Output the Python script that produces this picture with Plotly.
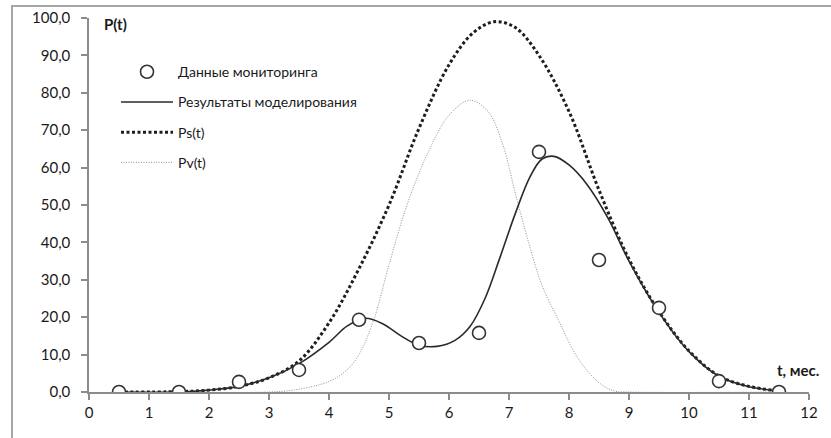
import plotly.graph_objects as go

# Monitoring data
t_obs = [0.5, 1.5, 2.5, 3.5, 4.5, 5.5, 6.5, 7.5, 8.5, 9.5, 10.5, 11.5]
p_obs = [0.0, 0.0, 2.7, 5.9, 19.3, 13.1, 15.8, 64.2, 35.3, 22.5, 2.9, 0.0]

# Modelling result (solid)
t_model = [0.5, 1.5, 2.0, 2.5, 3.0, 3.5, 4.0, 4.3, 4.6, 4.9, 5.2, 5.5, 5.8, 6.1, 6.35, 6.6,
           6.85, 7.1, 7.35, 7.55, 7.75, 8.0, 8.3, 8.65, 9.0, 9.5, 10.0, 10.5, 11.0, 11.5]
p_model = [0.0, 0.0, 0.5, 1.5, 3.8, 7.6, 13.3, 17.6, 19.7, 18.2, 15.0, 12.5, 12.2, 13.8, 17.5, 25.0,
           36.0, 47.5, 57.5, 62.3, 63.0, 60.7, 55.5, 46.5, 35.0, 21.3, 10.8, 4.2, 1.4, 0.3]

# Ps(t)
t_ps = [0.5, 1.5, 2.0, 2.5, 3.0, 3.5, 4.0, 4.5, 5.0, 5.5, 6.0, 6.4, 6.75, 7.1, 7.5,
        8.0, 8.5, 9.0, 9.5, 10.0, 10.5, 11.0, 11.5]
p_ps = [0.0, 0.1, 0.5, 1.5, 3.8, 8.3, 18.5, 33.0, 50.0, 70.5, 87.5, 96.0, 99.0, 97.5, 90.0,
        75.0, 54.0, 35.5, 21.5, 11.0, 4.3, 1.5, 0.3]

# Pv(t)
t_pv = [0.5, 3.0, 3.4, 4.0, 4.3, 4.5, 4.75, 5.0, 5.3, 5.65, 6.0, 6.35, 6.65, 6.9, 7.1,
        7.3, 7.55, 7.8, 8.15, 8.5, 8.75, 9.0, 11.5]
p_pv = [0.0, 0.0, 0.5, 2.8, 5.9, 10.0, 19.5, 34.0, 50.0, 64.0, 74.0, 78.0, 75.0, 66.0, 53.5,
        41.5, 28.5, 20.0, 9.0, 2.5, 0.3, 0.0, 0.0]

y_ticks = [0, 10, 20, 30, 40, 50, 60, 70, 80, 90, 100]
y_labels = [f"{v},0" for v in y_ticks]
x_ticks = list(range(0, 13))

FONT = "Lato"
TXT = "#1a1a1a"

fig = go.Figure()

fig.add_trace(go.Scatter(x=t_pv, y=p_pv, mode="lines", name="Pv(t)",
                         line=dict(color="#8f8f8f", width=1, dash="1px,1.5px", shape="spline", smoothing=1.0),
                         legendgroup="d", legendrank=4))
fig.add_trace(go.Scatter(x=t_ps, y=p_ps, mode="lines", name="Ps(t)",
                         line=dict(color="#1e1e1e", width=3, dash="3px,2.5px", shape="spline", smoothing=1.0),
                         legendgroup="c", legendrank=3))
fig.add_trace(go.Scatter(x=t_model, y=p_model, mode="lines", name="Результаты моделирования",
                         line=dict(color="#2a2a2a", width=1.6, shape="spline", smoothing=1.0),
                         legendgroup="b", legendrank=2))
fig.add_trace(go.Scatter(x=t_obs, y=p_obs, mode="markers", name="Данные мониторинга",
                         marker=dict(symbol="circle", size=13, color="white",
                                     line=dict(color="#333333", width=1.6)),
                         legendgroup="a", legendrank=1))

fig.update_layout(
    width=831, height=438,
    margin=dict(l=89, r=22, t=18, b=46),
    paper_bgcolor="white", plot_bgcolor="white",
    font=dict(family=FONT, size=14, color=TXT),
    showlegend=True,
    legend=dict(x=0.0375, y=0.898, xanchor="left", yanchor="top",
                traceorder="grouped", tracegroupgap=9, itemwidth=52,
                bgcolor="rgba(0,0,0,0)", font=dict(family=FONT, size=14, color=TXT)),
    xaxis=dict(range=[0, 12], tickvals=x_ticks, ticktext=[str(v) for v in x_ticks],
               showgrid=False, zeroline=False, showline=True, linecolor="#8c8c8c", linewidth=1.5,
               ticks="outside", ticklen=6, tickcolor="#8c8c8c", tickwidth=1.5, automargin=False,
               tickfont=dict(family=FONT, size=15, color=TXT)),
    yaxis=dict(range=[0, 100], tickvals=y_ticks, ticktext=y_labels,
               showgrid=False, zeroline=False, showline=True, linecolor="#8c8c8c", linewidth=1.5,
               ticks="outside", ticklen=6, tickcolor="#8c8c8c", tickwidth=1.5, automargin=False,
               ticklabelstandoff=8,
               tickfont=dict(family=FONT, size=15, color=TXT)),
    annotations=[
        dict(text="<b>P(t)</b>", xref="paper", yref="paper", x=0.018, y=0.985,
             xanchor="left", yanchor="middle", showarrow=False,
             font=dict(family=FONT, size=15, color=TXT)),
        dict(text="<b>t, мес.</b>", xref="paper", yref="paper", x=1.016, y=0.06,
             xanchor="right", yanchor="middle", showarrow=False,
             font=dict(family=FONT, size=15, color=TXT)),
    ],
    shapes=[
        dict(type="rect", xref="paper", yref="paper",
             x0=(12 - 89) / 720, x1=(840 - 89) / 720,
             y0=(392 - 445) / 374, y1=(392 - 6) / 374,
             line=dict(color="#a6a6a6", width=2), fillcolor="rgba(0,0,0,0)", layer="below"),
    ],
)

fig.write_html("out.html", config={"displayModeBar": False},
               post_script="document.body.style.margin='0';document.body.style.overflow='hidden';")
